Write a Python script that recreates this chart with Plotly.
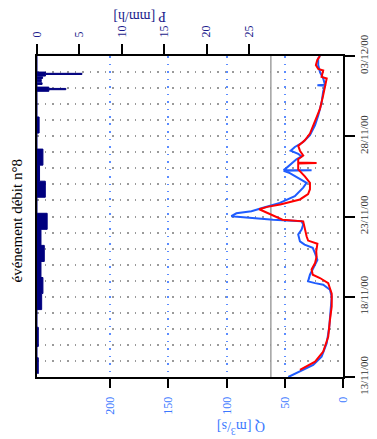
import plotly.graph_objects as go

# ---------------- data ----------------
q_obs_time = ["2000-11-13 00:00", "2000-11-13 08:00", "2000-11-13 18:00", "2000-11-14 06:30",
              "2000-11-15 02:24", "2000-11-16 03:20", "2000-11-17 04:48", "2000-11-18 00:00",
              "2000-11-18 10:30", "2000-11-18 18:00", "2000-11-18 20:24", "2000-11-18 23:00",
              "2000-11-19 09:00", "2000-11-19 19:00", "2000-11-20 07:12", "2000-11-20 16:48",
              "2000-11-21 01:12", "2000-11-21 06:00", "2000-11-21 10:48", "2000-11-21 21:00",
              "2000-11-22 04:30", "2000-11-22 12:00", "2000-11-22 16:48", "2000-11-22 19:12",
              "2000-11-22 21:36", "2000-11-23 00:30", "2000-11-23 04:48", "2000-11-23 08:00",
              "2000-11-23 13:00", "2000-11-23 20:24", "2000-11-24 06:30", "2000-11-24 19:12",
              "2000-11-25 02:24", "2000-11-25 09:36", "2000-11-25 16:48", "2000-11-25 20:24",
              "2000-11-25 21:00", "2000-11-25 21:20", "2000-11-26 00:00", "2000-11-26 06:00",
              "2000-11-26 13:30", "2000-11-26 18:00", "2000-11-26 21:36", "2000-11-27 02:24",
              "2000-11-27 08:00", "2000-11-27 15:20", "2000-11-28 01:30", "2000-11-28 16:48",
              "2000-11-29 07:12", "2000-11-30 02:24", "2000-11-30 19:12", "2000-12-01 03:36",
              "2000-12-01 04:20", "2000-12-01 05:00", "2000-12-01 14:24", "2000-12-02 00:00",
              "2000-12-02 10:30", "2000-12-02 20:24", "2000-12-03 00:00"]
q_obs = [47, 37, 25.6, 18.4, 14, 11.8, 10.3, 9.7, 11.2, 17, 24, 30, 28.4, 25.6, 22, 24,
         26, 33, 37, 38.5, 35.6, 34.2, 35.6, 60, 80, 96, 91.6, 78.7, 68.7, 54.3, 41.4, 34.2,
         31.3, 38.5, 45.7, 51, 27, 51, 49, 45, 40, 35.6, 38.5, 45, 41.4, 34.2, 28.4, 24,
         21.3, 18.4, 17, 15.5, 22, 15.5, 17, 19.8, 21.3, 21.3, 19.8]

q_sim_time = ["2000-11-13 10:48", "2000-11-13 23:00", "2000-11-14 14:00", "2000-11-15 12:00",
              "2000-11-16 13:30", "2000-11-17 09:36", "2000-11-18 04:48", "2000-11-18 20:24",
              "2000-11-19 04:00", "2000-11-19 09:00", "2000-11-19 16:48", "2000-11-20 02:24",
              "2000-11-20 12:00", "2000-11-20 20:00", "2000-11-21 07:12", "2000-11-21 12:00",
              "2000-11-21 18:30", "2000-11-22 04:30", "2000-11-22 16:48", "2000-11-22 19:12",
              "2000-11-23 01:12", "2000-11-23 07:12", "2000-11-23 10:48", "2000-11-23 14:24",
              "2000-11-23 18:00", "2000-11-24 01:30", "2000-11-24 09:36", "2000-11-24 16:48",
              "2000-11-25 02:24", "2000-11-25 12:00", "2000-11-25 22:30", "2000-11-26 07:12",
              "2000-11-26 08:00", "2000-11-26 08:40", "2000-11-26 13:30", "2000-11-26 19:12",
              "2000-11-27 02:24", "2000-11-27 09:36", "2000-11-27 18:00", "2000-11-28 04:00",
              "2000-11-28 21:36", "2000-11-29 16:48", "2000-11-30 13:30", "2000-12-01 02:24",
              "2000-12-01 14:24", "2000-12-01 16:48", "2000-12-02 02:24", "2000-12-02 04:48",
              "2000-12-02 10:30", "2000-12-02 18:00", "2000-12-03 00:00"]
q_sim = [37, 24, 17, 12.7, 11.2, 9.7, 9.7, 12.7, 19.8, 26, 27, 24, 22.7, 23, 22, 30,
         31.3, 32.8, 34.2, 52, 60, 68, 72, 65, 54, 37, 30, 28.4, 28.4, 32.8, 38.5, 38.5,
         22.7, 38.5, 38.5, 34.2, 37, 38.5, 32.8, 28.4, 24, 19.8, 17, 15.5, 14, 18.4, 17,
         21.3, 23.3, 22.1, 19.8]

# rainfall: value holds from this time until the next time
p_time = ["2000-11-13 04:48", "2000-11-14 04:48", "2000-11-14 21:36", "2000-11-16 02:24",
          "2000-11-17 04:48", "2000-11-18 04:48", "2000-11-19 04:48", "2000-11-20 04:48",
          "2000-11-21 04:48", "2000-11-22 04:48", "2000-11-23 04:48", "2000-11-24 04:48",
          "2000-11-25 04:48", "2000-11-26 04:48", "2000-11-27 04:48", "2000-11-28 04:48",
          "2000-11-29 04:48", "2000-11-30 19:12", "2000-11-30 21:36", "2000-11-30 23:30",
          "2000-12-01 01:30", "2000-12-01 05:30", "2000-12-01 08:00", "2000-12-01 09:36",
          "2000-12-01 13:12", "2000-12-01 14:24", "2000-12-01 16:48", "2000-12-01 18:00",
          "2000-12-01 20:24", "2000-12-01 22:05", "2000-12-02 00:00", "2000-12-03 00:00"]
p_val = [0.15, 0, 0.15, 0, 0.55, 0.7, 0.47, 0.86, 0.47, 1.2, 0, 0.98, 0.3, 0.7, 0, 0.25,
         0, 1.4, 3.4, 1.4, 0, 0.6, 0, 0.5, 0, 0.66, 0, 1.0, 5.3, 1.0, 0, 0]

q_threshold = 62

date_ticks = ["2000-11-13", "2000-11-18", "2000-11-23", "2000-11-28", "2000-12-03"]
date_labels = ["13/11/00", "18/11/00", "23/11/00", "28/11/00", "03/12/00"]
q_ticks = [0, 50, 100, 150, 200]
p_ticks = [0, 5, 10, 15, 20, 25]

title_text = "événement débit n°8"
q_title = "Q [m<sup>3</sup>/s]"
p_title = "P [mm/h]"

# ---------------- figure ----------------
FONT = "Liberation Serif"
OFF = 8                      # page body margin of the html page
PAGE_W, PAGE_H = 377, 439
W, H = PAGE_W - OFF, PAGE_H - OFF
# plot frame in page pixels
L, R, T, B = 37, 343, 56, 377
l_m, r_m, t_m, b_m = L - OFF, W - (R - OFF), T - OFF, H - (B - OFF)

def px(x):
    return (x - L) / (R - L)

def py(y):
    return (B - y) / (B - T)

fig = go.Figure()

fig.add_trace(go.Scatter(
    x=p_val, y=p_time, xaxis="x2", yaxis="y", mode="lines",
    line=dict(color="#00007f", width=1, shape="vh"),
    fill="tozerox", fillcolor="#00007f", showlegend=False, hoverinfo="skip"))

fig.add_trace(go.Scatter(
    x=q_obs, y=q_obs_time, mode="lines",
    line=dict(color="#1f5cff", width=2), showlegend=False))

fig.add_trace(go.Scatter(
    x=q_sim, y=q_sim_time, mode="lines",
    line=dict(color="#ff0000", width=2), showlegend=False))

fig.add_shape(type="line", xref="x", yref="paper", x0=q_threshold, x1=q_threshold,
              y0=0, y1=1, line=dict(color="#a0a0a0", width=1.5), layer="below")

fig.update_layout(
    width=W, height=H,
    margin=dict(l=l_m, r=r_m, t=t_m, b=b_m, pad=0, autoexpand=False),
    paper_bgcolor="white", plot_bgcolor="white",
    font=dict(family=FONT, size=12, color="black"),
    showlegend=False,
    xaxis=dict(
        range=[263, 0], tickvals=q_ticks, tickangle=-90, automargin=False,
        ticks="outside", ticklen=9, tickwidth=2, tickcolor="black",
        showline=True, linewidth=2, linecolor="black", mirror=True,
        showgrid=True, gridcolor="#5b8cff", gridwidth=1.5, griddash="1.5px,6px",
        zeroline=False, ticklabelstandoff=4,
        tickfont=dict(family=FONT, size=12, color="#3b78ff")),
    xaxis2=dict(
        overlaying="x", side="top", range=[0, 36.1], tickvals=p_ticks, tickangle=-90,
        automargin=False,
        ticks="outside", ticklen=10, tickwidth=2, tickcolor="black",
        showline=True, linewidth=2, linecolor="black",
        showgrid=False, zeroline=False, ticklabelstandoff=4,
        tickfont=dict(family=FONT, size=12, color="#1c1c8c")),
    yaxis=dict(
        type="date", side="right", range=["2000-11-13", "2000-12-03"],
        tickvals=date_ticks, ticktext=date_labels, tickangle=-90, automargin=False,
        ticks="outside", ticklen=10, tickwidth=2, tickcolor="black",
        showline=True, linewidth=2, linecolor="black", mirror=True,
        showgrid=True, gridcolor="#9a9a9a", gridwidth=1.5, griddash="1.5px,6px",
        minor=dict(dtick=86400000, tick0="2000-11-13", showgrid=True,
                   gridcolor="#9a9a9a", gridwidth=1.5, griddash="1.5px,6px"),
        zeroline=False,
        tickfont=dict(family=FONT, size=11, color="#333333")),
)

fig.add_annotation(text=p_title, xref="paper", yref="paper", x=px(140), y=py(16.5),
                   xanchor="center", yanchor="middle",
                   showarrow=False, textangle=180,
                   font=dict(family=FONT, size=14, color="#1c1c8c"))
fig.add_annotation(text=q_title, xref="paper", yref="paper", x=px(241), y=py(428),
                   xanchor="center", yanchor="middle",
                   showarrow=False, textangle=180,
                   font=dict(family=FONT, size=14, color="#3b78ff"))
fig.add_annotation(text=title_text, xref="paper", yref="paper", x=px(16.5), y=py(221),
                   xanchor="center", yanchor="middle",
                   showarrow=False, textangle=-90,
                   font=dict(family=FONT, size=15, color="black"))

fig.write_html("out.html")
